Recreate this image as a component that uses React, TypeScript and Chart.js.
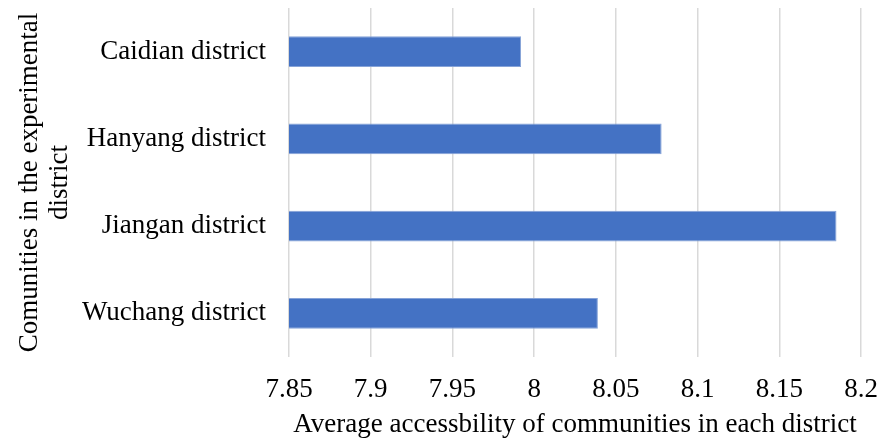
import React, { useEffect, useRef } from "react";
import { Chart, registerables } from "chart.js";

Chart.register(...registerables);

const categories = ["Caidian district", "Hanyang district", "Jiangan district", "Wuchang district"];
const values = [7.992, 8.078, 8.185, 8.039];
const xMin = 7.85;
const xMax = 8.2;
const xStep = 0.05;
const xTitle = "Average accessbility of communities in each district";
const yTitle = ["Comunities in the experimental", "district"];

const FONT = "'Liberation Serif', 'Times New Roman', serif";

export default function App() {
  const ref = useRef<HTMLCanvasElement | null>(null);
  useEffect(() => {
    if (!ref.current) return;
    const chart = new Chart(ref.current, {
      type: "bar",
      data: {
        labels: categories,
        datasets: [
          {
            data: values,
            backgroundColor: "#4472C4",
            borderColor: "#86a3d8",
            borderWidth: 1,
            borderSkipped: false,
            barPercentage: 0.355,
            categoryPercentage: 1,
          },
        ],
      },
      options: {
        indexAxis: "y",
        responsive: false,
        animation: false,
        layout: { padding: { left: 0, top: 8, right: 20, bottom: 0 } },
        plugins: { legend: { display: false }, tooltip: { enabled: false } },
        scales: {
          x: {
            min: xMin,
            max: xMax,
            afterFit: (s: any) => {
              s.height = 84;
              s.paddingLeft = 0;
              s.paddingRight = 0;
            },
            ticks: {
              stepSize: xStep,
              padding: 17,
              color: "#000",
              font: { family: FONT, size: 27, lineHeight: 1.2 },
              callback: (v: any) => String(Number(Number(v).toFixed(2))),
            },
            grid: { color: "#d9d9d9", lineWidth: 1.5, drawTicks: false },
            border: { display: false },
            title: {
              display: true,
              text: xTitle,
              color: "#000",
              font: { family: FONT, size: 27, lineHeight: 1.2 },
              padding: { top: 0, bottom: 0 },
            },
          },
          y: {
            afterFit: (s: any) => {
              s.width = 289;
              s.paddingTop = 0;
              s.paddingBottom = 0;
            },
            ticks: {
              padding: 23,
              color: "#000",
              font: { family: FONT, size: 27, lineHeight: 1.2 },
            },
            grid: { display: false, drawTicks: false },
            border: { display: false },
            title: {
              display: true,
              text: yTitle,
              color: "#000",
              font: { family: FONT, size: 27, lineHeight: 1.12 },
              padding: { top: 15, bottom: 0 },
            },
          },
        },
      },
    });
    return () => chart.destroy();
  }, []);
  return (
    <div style={{ position: "absolute", left: 0, top: 0, width: 881, height: 441, background: "#fff" }}>
      <canvas ref={ref} width={881} height={441} />
    </div>
  );
}
